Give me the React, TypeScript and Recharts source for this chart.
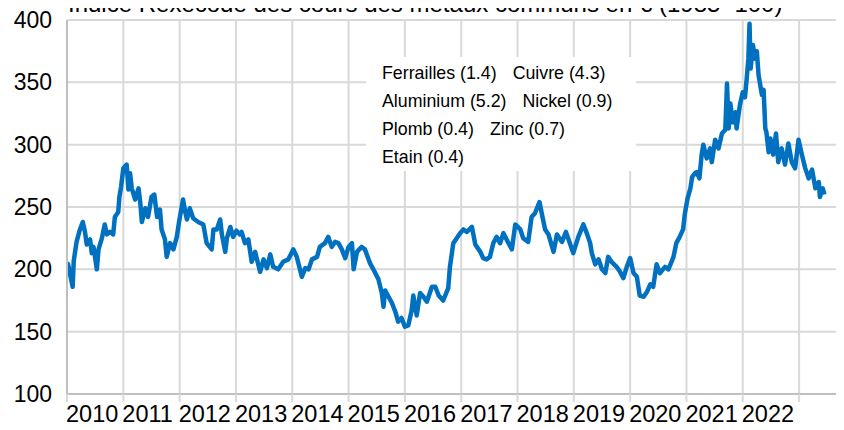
import React from 'react';
import { LineChart, Line, XAxis, YAxis, CartesianGrid } from 'recharts';

const dates = [
  2010.00, 2010.02, 2010.10, 2010.12, 2010.17, 2010.23, 2010.28, 2010.32, 2010.35, 2010.41,
  2010.44, 2010.47, 2010.53, 2010.56, 2010.62, 2010.67, 2010.71, 2010.76, 2010.82, 2010.85,
  2010.91, 2010.93, 2010.96, 2011.00, 2011.06, 2011.09, 2011.12, 2011.15, 2011.21, 2011.27,
  2011.30, 2011.33, 2011.39, 2011.44, 2011.50, 2011.55, 2011.60, 2011.65, 2011.68, 2011.74,
  2011.77, 2011.83, 2011.89, 2011.95, 2011.99, 2012.06, 2012.10, 2012.13, 2012.18, 2012.24,
  2012.33, 2012.42, 2012.48, 2012.57, 2012.60, 2012.66, 2012.72, 2012.75, 2012.81, 2012.84,
  2012.90, 2012.95, 2013.01, 2013.07, 2013.10, 2013.16, 2013.22, 2013.28, 2013.34, 2013.43,
  2013.49, 2013.55, 2013.61, 2013.66, 2013.75, 2013.84, 2013.93, 2014.02, 2014.08, 2014.17,
  2014.23, 2014.29, 2014.35, 2014.44, 2014.49, 2014.58, 2014.64, 2014.70, 2014.76, 2014.82,
  2014.88, 2014.94, 2015.00, 2015.06, 2015.09, 2015.15, 2015.23, 2015.29, 2015.38, 2015.44,
  2015.53, 2015.59, 2015.62, 2015.65, 2015.71, 2015.77, 2015.83, 2015.88, 2015.94, 2016.00,
  2016.06, 2016.12, 2016.15, 2016.21, 2016.27, 2016.33, 2016.39, 2016.48, 2016.54, 2016.60,
  2016.68, 2016.77, 2016.80, 2016.86, 2016.92, 2016.98, 2017.04, 2017.10, 2017.19, 2017.25,
  2017.34, 2017.39, 2017.45, 2017.51, 2017.57, 2017.63, 2017.69, 2017.75, 2017.84, 2017.90,
  2017.96, 2018.05, 2018.10, 2018.19, 2018.25, 2018.31, 2018.39, 2018.43, 2018.49, 2018.55,
  2018.64, 2018.70, 2018.79, 2018.86, 2018.93, 2018.99, 2019.08, 2019.17, 2019.23, 2019.29,
  2019.32, 2019.38, 2019.44, 2019.50, 2019.56, 2019.61, 2019.67, 2019.76, 2019.82, 2019.88,
  2019.94, 2020.00, 2020.06, 2020.12, 2020.17, 2020.24, 2020.30, 2020.36, 2020.41, 2020.47,
  2020.53, 2020.62, 2020.68, 2020.77, 2020.82, 2020.88, 2020.94, 2020.97, 2021.02, 2021.07,
  2021.10, 2021.15, 2021.18, 2021.23, 2021.27, 2021.30, 2021.36, 2021.42, 2021.45, 2021.51,
  2021.57, 2021.63, 2021.69, 2021.72, 2021.75, 2021.78, 2021.82, 2021.87, 2021.89, 2021.95,
  2022.00, 2022.04, 2022.07, 2022.10, 2022.12, 2022.14, 2022.18, 2022.22, 2022.25, 2022.28,
  2022.31, 2022.34, 2022.37, 2022.40, 2022.42, 2022.46, 2022.49, 2022.54, 2022.59, 2022.63,
  2022.69, 2022.75, 2022.81, 2022.87, 2022.93, 2022.99, 2023.05, 2023.11, 2023.17, 2023.23,
  2023.29, 2023.35, 2023.37, 2023.42, 2023.45,
];

const values = [
  205, 204, 186, 207, 222, 232, 238, 230, 220, 224,
  213, 218, 200, 216, 225, 236, 228, 230, 228, 242,
  246, 258, 266, 281, 284, 264, 277, 265, 256, 265,
  254, 238, 249, 242, 258, 260, 242, 248, 232, 224,
  210, 221, 216, 226, 238, 256, 246, 240, 249, 241,
  238, 236, 221, 216, 232, 232, 240, 228, 214, 225,
  234, 226, 231, 228, 230, 221, 224, 206, 214, 198,
  208, 201, 212, 202, 200, 206, 208, 216, 210, 194,
  201, 200, 208, 210, 218, 221, 226, 218, 222, 221,
  216, 209, 218, 221, 200, 214, 218, 216, 205, 200,
  192, 181, 170, 183, 178, 173, 166, 158, 161, 154,
  155, 167, 179, 163, 181, 178, 174, 186, 186, 179,
  175, 185, 202, 221, 225, 229, 232, 230, 234, 220,
  214, 209, 208, 210, 221, 226, 221, 229, 221, 216,
  236, 232, 225, 222, 242, 245, 254, 245, 232, 228,
  214, 228, 222, 230, 221, 213, 226, 236, 229, 221,
  213, 204, 208, 200, 197, 210, 206, 202, 198, 193,
  202, 209, 197, 194, 179, 178, 182, 188, 186, 204,
  197, 202, 200, 210, 221, 226, 232, 244, 257, 265,
  274, 277, 278, 273, 292, 300, 289, 297, 286, 304,
  297, 309, 312, 349, 313, 333, 318, 326, 313, 332,
  342, 338, 353, 369, 397, 361, 380, 369, 375, 356,
  348, 340, 344, 313, 310, 294, 305, 292, 309, 286,
  297, 284, 301, 286, 281, 304, 292, 281, 273, 280,
  265, 270, 258, 265, 260,
];

const yearTicks = [2010, 2011, 2012, 2013, 2014, 2015, 2016, 2017, 2018, 2019, 2020, 2021, 2022, 2023];
const yearLabels = ['2010', '2011', '2012', '2013', '2014', '2015', '2016', '2017', '2018', '2019', '2020', '2021', '2022', ''];
const valueTicks = [100, 150, 200, 250, 300, 350, 400];

const legendRows = [
  ['Ferrailles (1.4)', 'Cuivre (4.3)'],
  ['Aluminium (5.2)', 'Nickel (0.9)'],
  ['Plomb (0.4)', 'Zinc (0.7)'],
  ['Etain (0.4)'],
];

const title = 'Indice Rexecode des cours des métaux communs en € (1985=100)';

const data = dates.map((t, i) => ({ t, v: values[i] }));

const FONT = '"Liberation Sans", Arial, sans-serif';

const XTick = (props: any) => {
  const { x, y, payload } = props;
  const idx = yearTicks.indexOf(payload.value);
  return (
    <text x={x - 1} y={y + 20} textAnchor="start" fontFamily={FONT} fontSize={23.5} fill="#000">
      {idx >= 0 ? yearLabels[idx] : ''}
    </text>
  );
};

const YTick = (props: any) => {
  const { x, y, payload } = props;
  return (
    <text x={x} y={y + 8} textAnchor="end" fontFamily={FONT} fontSize={23} fill="#000">
      {payload.value}
    </text>
  );
};

export default function App() {
  return (
    <div style={{ position: 'relative', width: 844, height: 430, margin: -8, background: '#fff', overflow: 'hidden' }}>
      <LineChart width={844} height={430} data={data} margin={{ top: 20, right: 1, bottom: 0, left: 0 }}>
        <CartesianGrid stroke="#d9d9d9" strokeWidth={2} />
        <XAxis
          dataKey="t"
          type="number"
          domain={[2010, 2023.78]}
          ticks={yearTicks}
          allowDataOverflow
          height={36}
          tickSize={8}
          tickMargin={0}
          tickLine={{ stroke: '#d9d9d9', strokeWidth: 2 }}
          axisLine={{ stroke: '#bfbfbf', strokeWidth: 2 }}
          tick={<XTick />}
          interval={0}
        />
        <YAxis
          domain={[100, 400]}
          ticks={valueTicks}
          width={67}
          tickSize={0}
          tickMargin={15}
          tickLine={false}
          axisLine={{ stroke: '#bfbfbf', strokeWidth: 2 }}
          tick={<YTick />}
          interval={0}
        />
        <Line
          dataKey="v"
          type="linear"
          stroke="#0070C0"
          strokeWidth={4.5}
          strokeLinejoin="round"
          dot={false}
          isAnimationActive={false}
        />
      </LineChart>
      <div
        style={{
          position: 'absolute',
          left: 68,
          top: -8,
          fontFamily: FONT,
          fontSize: 24,
          lineHeight: '24px',
          whiteSpace: 'nowrap',
          color: '#000',
        }}
      >
        {title}
      </div>
      <div
        style={{
          position: 'absolute',
          left: 366,
          top: 57,
          width: 270,
          height: 114,
          background: '#fff',
          fontFamily: FONT,
          fontSize: 17.8,
          color: '#000',
          boxSizing: 'border-box',
          paddingLeft: 16,
          paddingTop: 2,
        }}
      >
        {legendRows.map((row, i) => (
          <div key={i} style={{ height: 28, lineHeight: '28px', whiteSpace: 'nowrap' }}>
            {row.map((item, j) => (
              <span key={j} style={{ marginRight: 16 }}>{item}</span>
            ))}
          </div>
        ))}
      </div>
    </div>
  );
}
